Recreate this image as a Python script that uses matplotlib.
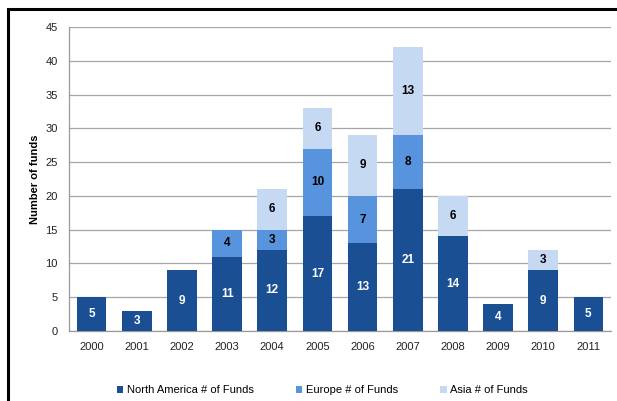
import numpy as np
import matplotlib.pyplot as plt
from matplotlib.patches import Rectangle

plt.rcParams['font.family'] = ['Liberation Sans', 'DejaVu Sans']

years = ['2000', '2001', '2002', '2003', '2004', '2005', '2006', '2007', '2008', '2009', '2010', '2011']
north_america = [5, 3, 9, 11, 12, 17, 13, 21, 14, 4, 9, 5]
europe = [0, 0, 0, 4, 3, 10, 7, 8, 0, 0, 0, 0]
asia = [0, 0, 0, 0, 6, 6, 9, 13, 6, 0, 3, 0]

series = [
    ('North America # of Funds', north_america, '#1a4f94', 'white'),
    ('Europe # of Funds', europe, '#5893dd', 'black'),
    ('Asia # of Funds', asia, '#c5d9f2', 'black'),
]

fig = plt.figure(figsize=(6.17, 4.01), dpi=100)
ax = fig.add_axes([69 / 617, 1 - 331 / 401, (611 - 69) / 617, (331 - 27) / 401])

x = np.arange(len(years))
bottom = np.zeros(len(years))
for name, vals, color, tcolor in series:
    vals = np.array(vals, dtype=float)
    ax.bar(x, vals, 0.66, bottom=bottom, color=color, label=name, zorder=3)
    for xi, b, v in zip(x, bottom, vals):
        if v > 0:
            ax.text(xi, b + v / 2, '%d' % v, ha='center', va='center',
                    color=tcolor, fontsize=8.5, fontweight='bold', zorder=4)
    bottom += vals

ax.set_xlim(-0.5, len(years) - 0.5)
ax.set_ylim(0, 45)
ax.set_yticks(range(0, 46, 5))
ax.set_xticks(x)
ax.set_xticklabels(years)
ax.tick_params(length=0, labelsize=8, colors='#222222', pad=8)
ax.grid(axis='y', color='#a6a6a6', linewidth=0.9, zorder=0)
for s in ['top', 'right']:
    ax.spines[s].set_visible(False)
for s in ['left', 'bottom']:
    ax.spines[s].set_color('#999999')
    ax.spines[s].set_linewidth(0.9)

ax.set_ylabel('Number of funds', fontsize=8, fontweight='bold', labelpad=4)

ax.legend(loc='upper center', bbox_to_anchor=(0.467, -0.145), ncol=3, frameon=False,
          fontsize=8, handlelength=0.6, handleheight=0.6, handletextpad=0.3,
          columnspacing=3.8)

# outer frame around the chart
fig.patches.append(Rectangle((8 / 617, -0.05), 1.2, 1 - 9 / 401 + 0.05,
                             transform=fig.transFigure, fill=False,
                             edgecolor='black', linewidth=2.2))

fig.savefig('out.png', dpi=100)
